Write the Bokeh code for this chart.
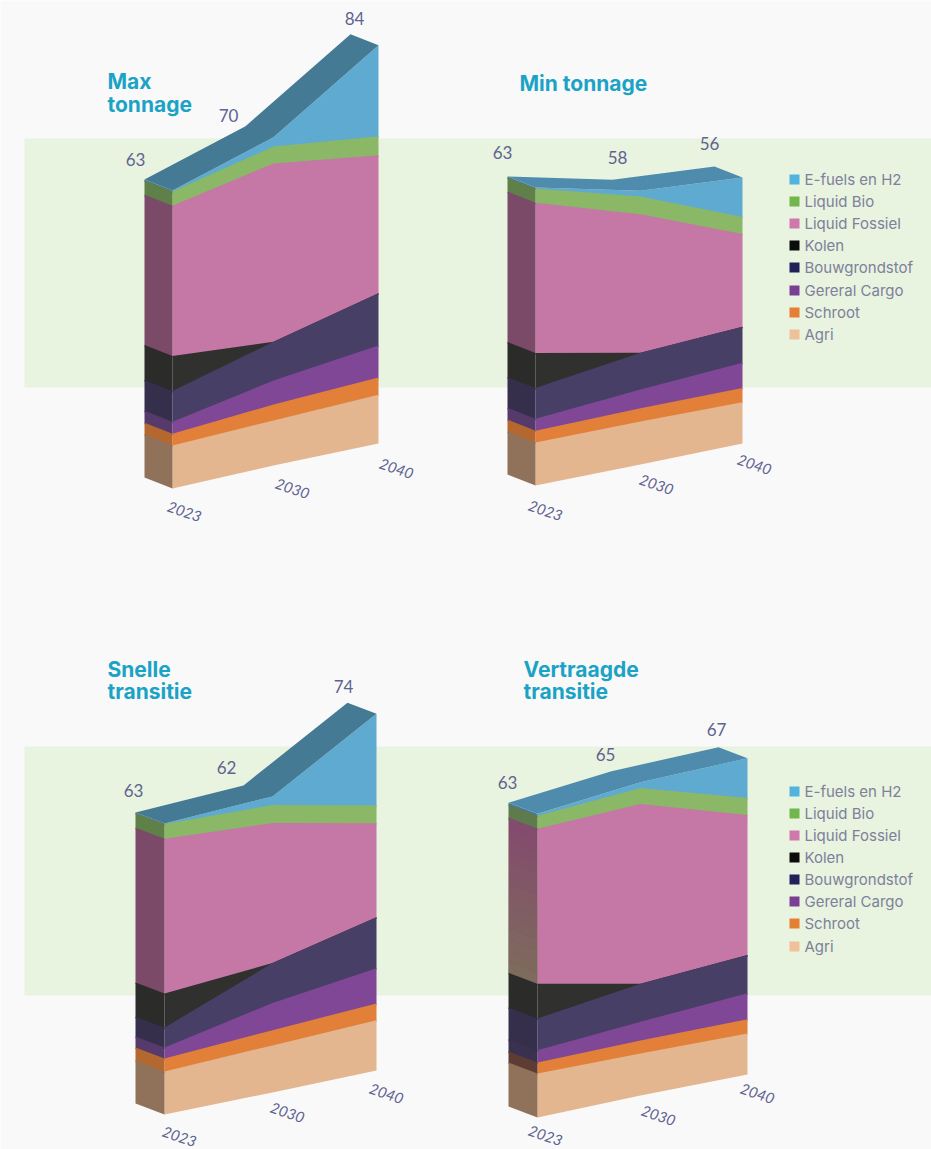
from bokeh.core.properties import value
from bokeh.embed import file_html
from bokeh.models import Range1d
from bokeh.plotting import figure
from bokeh.resources import INLINE

# Throughput per cargo type in Mton, bottom of the stack first.
series = ["Agri", "Schroot", "Gereral Cargo", "Bouwgrondstof", "Kolen",
          "Liquid Fossiel", "Liquid Bio", "E-fuels en H2"]
years = ["2023", "2030", "2040"]

max_2023 = [9.1, 2.5, 2.5, 6.5, 7.4, 31.8, 3.0, 0.2]
max_2030 = [9.6, 3.4, 5.1, 8.3, 0.0, 38.0, 3.6, 2.0]
max_2040 = [10.3, 3.6, 6.8, 11.0, 0.0, 29.1, 4.0, 19.2]

min_2023 = [9.1, 2.5, 2.5, 6.5, 7.4, 31.8, 3.0, 0.2]
min_2030 = [9.1, 2.8, 4.0, 7.8, 0.0, 29.3, 3.8, 1.2]
min_2040 = [8.7, 3.0, 5.3, 7.6, 0.0, 19.5, 3.6, 8.3]

snel_2023 = [9.3, 2.8, 2.4, 4.3, 7.4, 33.5, 3.2, 0.1]
snel_2030 = [9.9, 3.2, 5.7, 8.4, 0.0, 29.4, 3.8, 1.8]
snel_2040 = [10.4, 3.5, 7.3, 10.6, 0.0, 19.5, 3.7, 19.0]

vert_2023 = [9.1, 2.3, 2.5, 6.6, 7.2, 32.1, 2.7, 0.4]
vert_2030 = [8.7, 2.7, 3.9, 7.9, 0.0, 37.3, 3.3, 1.2]
vert_2040 = [8.7, 3.0, 5.5, 8.1, 0.0, 29.7, 3.6, 8.4]

front_colors = ["#e3b690", "#e2803a", "#7f4796", "#483f66", "#30302f",
                "#c577a6", "#8ab866", "#5eaad0"]
side_colors = ["#8f7259", "#b4682f", "#563a6c", "#352f4c", "#2b2b2a",
               "#7a4a68", "#5f8048", "#467b98"]
# The last scenario's end wall sits in shadow, so its lower layers go darker.
shaded_side_colors = ["#8f7259", "#5e3c33", "#3a3050", "#352f4c", "#2b2b2a",
                      "#84496f", "#5f7a4c", "#467b98"]
legend_colors = ["#f0c09a", "#e57f33", "#7a3f94", "#1f2158", "#0c0c0c",
                 "#d078ab", "#72b64e", "#52b4de"]

TITLE = "#1ba3c6"
INK = "#5f6390"
LEGEND_INK = "#7d8199"
PAGE = "#f9f9fa"
BAND = "#e8f3e0"
HAZE = "#7b7a55"

TITLE_FONT = "Inter"
LABEL_FONT = "Lato"
LEGEND_FONT = "Inter"

panels = [
    dict(columns=[max_2023, max_2030, max_2040],
         x=[172, 273, 378], base=[488, 465, 443], unit=[4.73, 4.69, 4.74],
         depth=(28, 11), top="#457a94", side=side_colors, haze=False,
         title=[("Max", 107, 81), ("tonnage", 107, 104)],
         totals=[(135, 159), (228, 115), (354, 18)],
         ticks=[(184, 511), (292, 488), (396, 468)]),
    dict(columns=[min_2023, min_2030, min_2040],
         x=[535, 640, 742], base=[485, 464, 443], unit=[4.73, 4.72, 4.75],
         depth=(28, 11), top="#4f8bad", side=side_colors, haze=False,
         title=[("Min tonnage", 519, 83)],
         totals=[(502, 152), (617, 157), (709, 143)],
         ticks=[(545, 510), (656, 484), (754, 464)]),
    dict(columns=[snel_2023, snel_2030, snel_2040],
         x=[164, 272, 376], base=[1114, 1092, 1070], unit=[4.62, 4.76, 4.82],
         depth=(29, 11), top="#457a94", side=side_colors, haze=False,
         title=[("Snelle", 107, 669), ("transitie", 107, 691)],
         totals=[(133, 790), (226, 767), (343, 686)],
         ticks=[(179, 1136), (287, 1112), (386, 1093)]),
    dict(columns=[vert_2023, vert_2030, vert_2040],
         x=[537, 640, 747], base=[1117, 1095, 1074], unit=[4.83, 4.82, 4.72],
         depth=(29, 11), top="#4f8bad", side=shaded_side_colors, haze=True,
         title=[("Vertraagde", 523, 669), ("transitie", 523, 691)],
         totals=[(507, 782), (605, 754), (716, 729)],
         ticks=[(545, 1135), (658, 1115), (757, 1093)]),
]

legend_rows = [[179, 201, 223, 245, 267, 290, 312, 334],
               [791, 813, 835, 857, 879, 901, 923, 946]]
bands = [(138, 387), (746, 995)]

p = figure(width=931, height=1149, output_backend="svg", toolbar_location=None,
           x_range=Range1d(0, 931), y_range=Range1d(1149, 0),
           min_border=0, background_fill_color=PAGE, border_fill_color=PAGE,
           outline_line_color=None)
p.axis.visible = False
p.grid.visible = False

for y0, y1 in bands:
    p.quad(left=24, right=931, top=y0, bottom=y1, fill_color=BAND, line_color=None)


def level(column, upto, unit, floor):
    return floor - sum(column[:upto]) * unit


for panel in panels:
    xs, base, unit, cols = panel["x"], panel["base"], panel["unit"], panel["columns"]
    dx, dy = panel["depth"]
    back = [xs[0] - dx, xs[0], xs[0], xs[0] - dx]

    # Painted top layer first, each reaching slightly under its lower
    # boundary so that the next layer closes any hairline gap.
    for i in range(len(series) - 1, -1, -1):
        tops = [level(c, i + 1, u, b) for c, u, b in zip(cols, unit, base)]
        lows = [level(c, i, u, b) for c, u, b in zip(cols, unit, base)]
        under = [low if i == 0 else low + 1.5 for low in lows]
        p.patch(xs + xs[::-1], tops + under[::-1],
                fill_color=front_colors[i], line_color=None)
        p.patch(back, [tops[0] - dy, tops[0], under[0], under[0] - dy],
                fill_color=panel["side"][i], line_color=None)

    # Fossil band of a shaded end wall fades towards an olive grey.
    if panel["haze"]:
        upper = level(cols[0], 6, unit[0], base[0])
        lower = level(cols[0], 5, unit[0], base[0])
        steps = 14
        for s in range(steps):
            y0 = upper + (lower - upper) * s / steps
            y1 = upper + (lower - upper) * (s + 1) / steps
            p.patch(back, [y0 - dy, y0, y1, y1 - dy], fill_color=HAZE,
                    fill_alpha=0.7 * (s + 1) / steps, line_color=None)

    # Top face follows the total of every stack.
    tops = [b - sum(c) * u for b, c, u in zip(base, cols, unit)]
    p.patch(xs + [x - dx for x in xs[::-1]],
            tops + [t - dy for t in tops[::-1]],
            fill_color=panel["top"], line_color=None)

    for text, x, y in panel["title"]:
        p.text([x], [y], text=[text], text_color=TITLE, text_font=value(TITLE_FONT),
               text_font_style="bold", text_font_size="21px",
               text_align="left", text_baseline="middle")

    for c, (x, y) in zip(cols, panel["totals"]):
        p.text([x], [y], text=[str(round(sum(c)))], text_color=INK,
               text_font=value(LABEL_FONT), text_font_size="17px",
               text_align="center", text_baseline="middle")

    for year, (x, y) in zip(years, panel["ticks"]):
        p.text([x], [y], text=[year], text_color=INK, angle=-0.33,
               text_font=value(LABEL_FONT), text_font_style="italic", text_font_size="15px",
               text_align="center", text_baseline="middle")

for rows in legend_rows:
    for i, y in zip(range(len(series) - 1, -1, -1), rows):
        p.rect([794], [y], width=10, height=10, fill_color=legend_colors[i], line_color=None)
        p.text([804], [y], text=[series[i]], text_color=LEGEND_INK,
               text_font=value(LEGEND_FONT), text_font_size="15px",
               text_align="left", text_baseline="middle")

open("out.html", "w").write(file_html(p, INLINE))
